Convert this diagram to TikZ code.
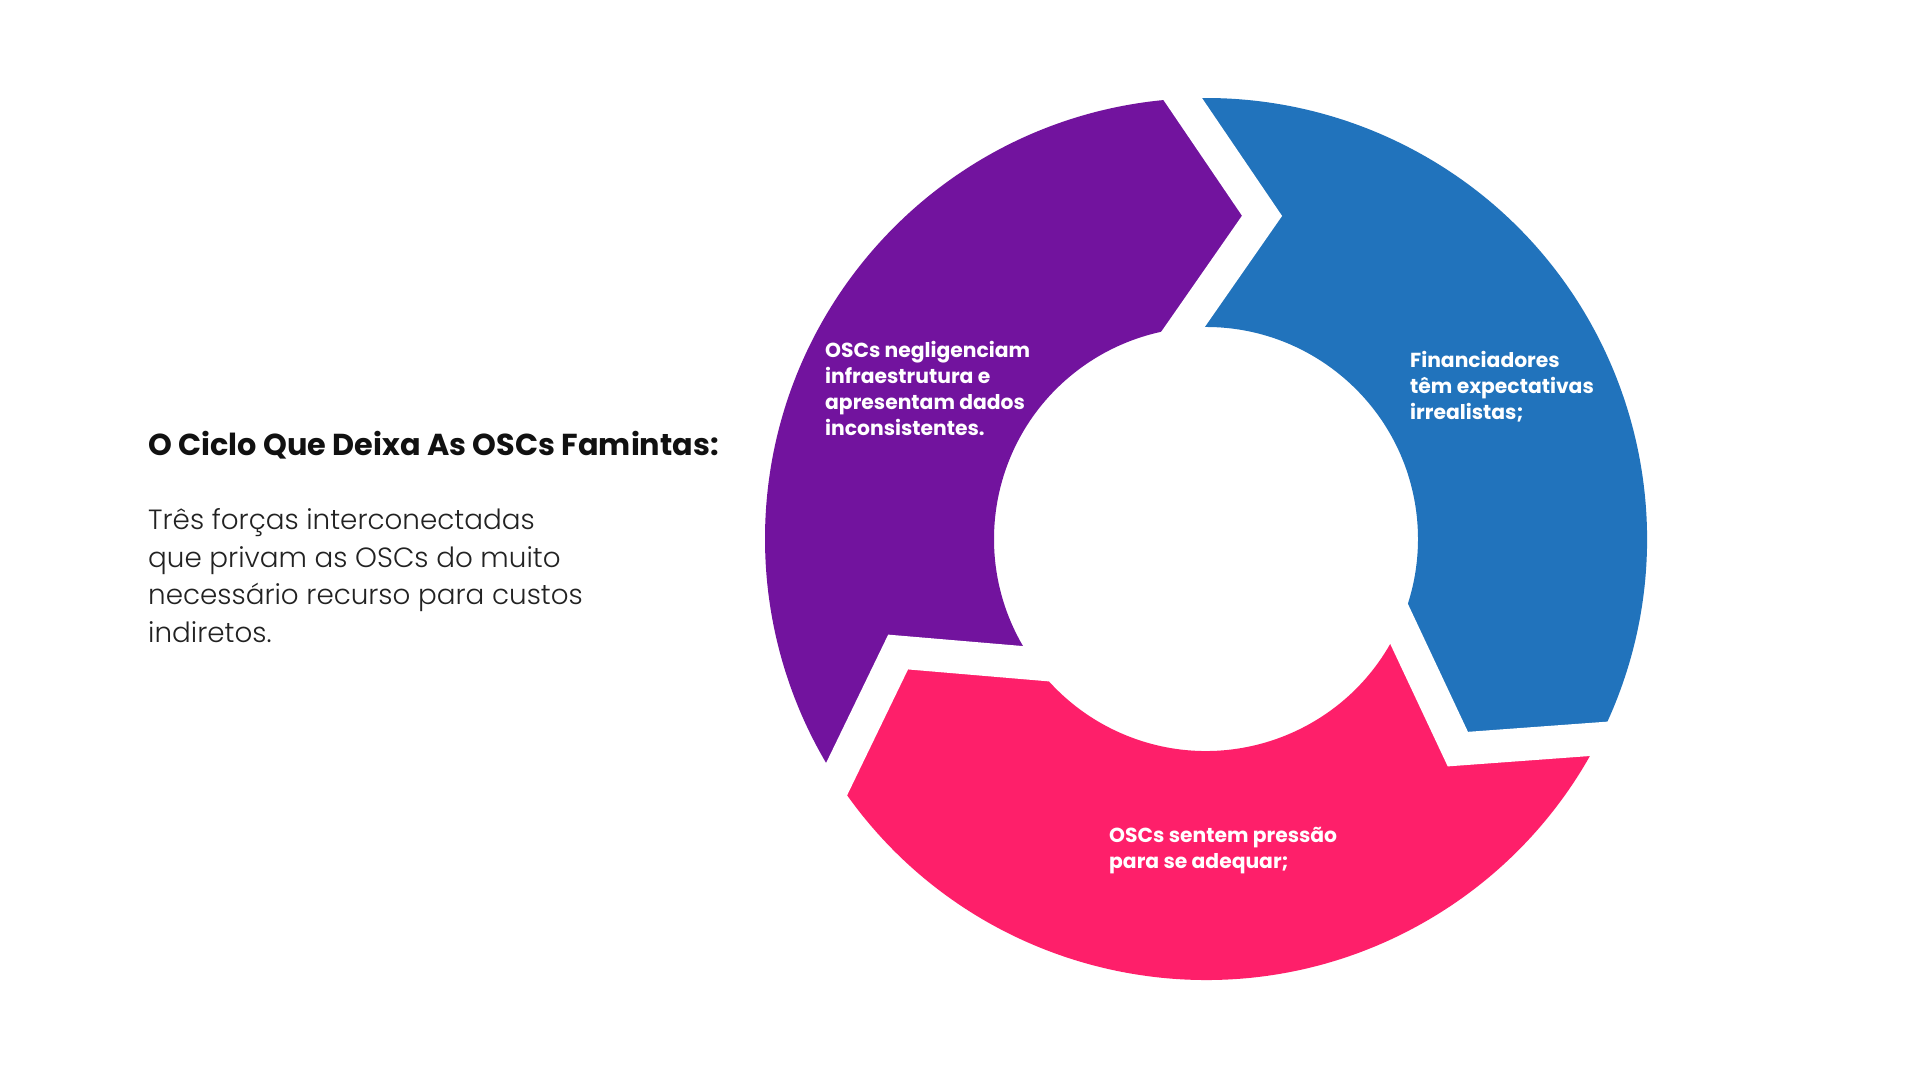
\documentclass[tikz,border=0pt]{standalone}
\usepackage{fontspec}
\setmainfont{Poppins}[BoldFont={Poppins Bold}]
\newfontfamily\lightfont{Poppins Light}
\usetikzlibrary{calc}
\definecolor{cpurple}{HTML}{72139E}
\definecolor{cblue}{HTML}{2173BC}
\definecolor{cpink}{HTML}{FE1F6A}
\definecolor{ctitle}{HTML}{111111}
\definecolor{cbody}{HTML}{222222}
\tikzset{
  seglabel/.style={anchor=west, align=left, inner sep=0pt, text=white,
    font=\bfseries\fontsize{20.3}{26}\selectfont},
  cut/.style={white, line width=33pt, line join=miter, miter limit=10},
}
\begin{document}
\begin{tikzpicture}[x=1pt,y=1pt]
\useasboundingbox (0,0) rectangle (1920,1080);
\fill[white] (0,0) rectangle (1920,1080);
\coordinate (C) at (1206,541);
% boundary 0 (top)
\coordinate (O0) at ($(C)+(93.06:441)$);
\coordinate (V0) at ($(C)+(80.16:328)$);
\coordinate (I0) at ($(C)+(96:212)$);
% boundary 1 (lower right)
\coordinate (O1) at ($(C)+(-26.94:441)$);
\coordinate (V1) at ($(C)+(-39.84:328)$);
\coordinate (I1) at ($(C)+(-24:212)$);
% boundary 2 (lower left)
\coordinate (O2) at ($(C)+(-146.94:441)$);
\coordinate (V2) at ($(C)+(-159.84:328)$);
\coordinate (I2) at ($(C)+(-144:212)$);
% segments
\fill[cblue] (O1) arc[start angle=-26.94, end angle=93.06, radius=441] -- (V0) -- (I0)
  arc[start angle=96, end angle=-24, radius=212] -- (V1) -- cycle;
\fill[cpurple] (O0) arc[start angle=93.06, end angle=213.06, radius=441] -- (V2) -- (I2)
  arc[start angle=216, end angle=96, radius=212] -- (V0) -- cycle;
\fill[cpink] (O2) arc[start angle=213.06, end angle=333.06, radius=441] -- (V1) -- (I1)
  arc[start angle=336, end angle=216, radius=212] -- (V2) -- cycle;
% gaps
\draw[cut] ($(V0)!1.4!(O0)$) -- (V0) -- ($(V0)!1.4!(I0)$);
\draw[cut] ($(V1)!1.4!(O1)$) -- (V1) -- ($(V1)!1.4!(I1)$);
\draw[cut] ($(V2)!1.4!(O2)$) -- (V2) -- ($(V2)!1.4!(I2)$);
% labels
\node[seglabel] (lpurple) at (825,691.5) {OSCs negligenciam\\infraestrutura e\\apresentam dados\\inconsistentes.};
\node[seglabel] (lblue) at (1410,693) {Financiadores\\têm expectativas\\irrealistas;};
\node[seglabel] (lpink) at (1109,229.5) {OSCs sentem pressão\\para se adequar;};
% left text
\node[anchor=west, inner sep=0pt, text=ctitle, font=\bfseries\fontsize{30.3}{36}\selectfont] (title) at (148,635) {O Ciclo Que Deixa As OSCs Famintas:};
\node[anchor=west, align=left, inner sep=0pt, text=cbody, font=\lightfont\fontsize{27.8}{37.5}\selectfont] (body) at (148,504.5) {Três forças interconectadas\\que privam as OSCs do muito\\necessário recurso para custos\\indiretos.};
\end{tikzpicture}
\end{document}
